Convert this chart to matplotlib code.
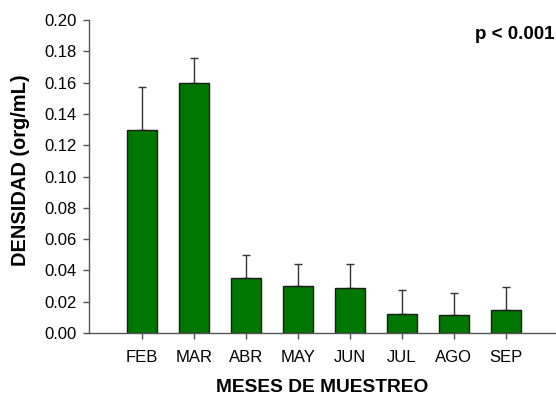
import matplotlib.pyplot as plt
import numpy as np

# densidad media por mes de muestreo y su error (solo barra superior)
meses = ["FEB", "MAR", "ABR", "MAY", "JUN", "JUL", "AGO", "SEP"]
densidad = [0.130, 0.160, 0.035, 0.030, 0.029, 0.012, 0.0113, 0.0147]
error = [0.027, 0.016, 0.015, 0.014, 0.015, 0.0155, 0.0145, 0.015]

plt.rcParams['font.family'] = ['Liberation Sans', 'DejaVu Sans']

fig = plt.figure(figsize=(5.56, 3.98), dpi=100)
ax = fig.add_axes([0.160, 0.1633, 0.840, 0.7864])

x = np.arange(len(meses))
ax.bar(x, densidad, width=0.58, color='#007800', edgecolor='#1a1a1a', linewidth=1.0, zorder=2)
ax.errorbar(x, densidad, yerr=[np.zeros(len(error)), error], fmt='none',
            ecolor='#333333', elinewidth=1.0, capsize=2.7, capthick=1.0, zorder=1)

ax.set_xlim(-1.02, 7.97)
ax.set_ylim(0, 0.20)
yt = np.arange(0, 0.201, 0.02)
ax.set_yticks(yt)
ax.set_yticklabels([f"{v:.2f}" for v in yt])
ax.set_xticks(x)
ax.set_xticklabels(meses)

for s in ['top', 'right']:
    ax.spines[s].set_visible(False)
for s in ['left', 'bottom']:
    ax.spines[s].set_color('#555555')
    ax.spines[s].set_linewidth(1.0)

ax.tick_params(axis='both', direction='out', length=4, width=1.0, color='#555555',
               labelsize=12, labelcolor='black')
ax.tick_params(axis='x', pad=8)
ax.tick_params(axis='y', pad=5)

ax.set_xlabel("MESES DE MUESTREO", fontsize=13.8, fontweight='bold')
ax.set_ylabel("DENSIDAD (org/mL)", fontsize=14.4, fontweight='bold')
ax.xaxis.set_label_coords(0.5, -0.147)
ax.yaxis.set_label_coords(-0.1255, 0.521)

ax.text(0.8266, 0.939, "p < 0.001", transform=ax.transAxes, ha='left', va='baseline',
        fontsize=13.5, fontweight='bold')

fig.savefig("out.png", dpi=100)
